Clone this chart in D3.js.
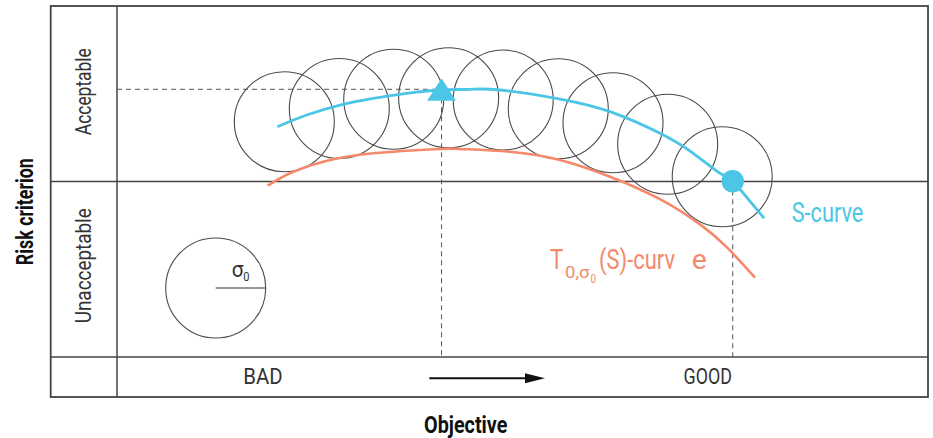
<!DOCTYPE html>
<html><head><meta charset="utf-8">
<script src="https://cdn.jsdelivr.net/npm/d3@7"></script>
<style>body{margin:0;background:#fff;} svg{display:block;}</style>
</head><body><svg id="c" width="933" height="438"></svg>
<script>
// ---------- data (abstract units: objective 0..100, risk criterion 0..100) ----------
const circleX = [20.63, 27.41, 34.12, 40.89, 47.62, 54.41, 61.16, 67.90, 74.63];
const circleY = [67.04, 70.80, 73.42, 73.87, 73.22, 70.74, 66.75, 60.60, 51.37];
const sCurveX = [19.77, 23.39, 27.50, 31.60, 35.72, 39.83, 43.53, 47.23, 54.62, 60.79, 66.95, 71.06, 74.35, 75.92, 79.78];
const sCurveY = [65.61, 68.95, 71.79, 73.70, 75.13, 76.07, 76.27, 76.07, 73.50, 69.89, 63.73, 58.03, 52.34, 50.06, 39.52];
const tCurveX = [18.58, 21.33, 25.44, 31.60, 39.83, 42.29, 48.46, 54.62, 60.79, 66.95, 71.89, 75.18, 78.67];
const tCurveY = [48.80, 52.34, 55.64, 58.03, 59.26, 59.26, 58.49, 56.13, 51.37, 44.96, 37.78, 31.31, 22.59];
const optimum = [40.02, 76.27];     // triangle marker
const boundary = [75.92, 50.06];    // dot marker
const threshold = 50;               // acceptable / unacceptable
const sigma0 = 6.165;               // circle radius (objective units)
const sigmaCircle = [12.17, 19.66];
const xLabels = ["BAD", "GOOD"];
const yLabels = ["Acceptable", "Unacceptable"];
const xTitle = "Objective";
const yTitle = "Risk criterion";

// ---------- layout ----------
const L = 117, R = 928, T = 6, B = 357, OL = 50.7, OB = 397;
const blue = "#4cc6e6", orange = "#f4896b", ink = "#444", thin = "#4a4a4a";
const svg = d3.select("#c");
svg.append("rect").attr("width", 933).attr("height", 438).attr("fill", "#fff");
const x = d3.scaleLinear([0, 100], [L, R]);
const y = d3.scaleLinear([0, 100], [B, T]);
const rPx = x(sigma0) - x(0);

// frame
const frame = svg.append("g").attr("stroke", ink).attr("fill", "none");
frame.append("rect").attr("x", OL).attr("y", T).attr("width", R - OL).attr("height", OB - T).attr("stroke-width", 1.8);
frame.append("line").attr("x1", L).attr("x2", L).attr("y1", T).attr("y2", OB).attr("stroke-width", 1.5);
frame.append("line").attr("x1", OL).attr("x2", R).attr("y1", y(threshold)).attr("y2", y(threshold)).attr("stroke-width", 1.5);
frame.append("line").attr("x1", OL).attr("x2", R).attr("y1", B).attr("y2", B).attr("stroke-width", 1.5);

// dashed guides
const dash = svg.append("g").attr("stroke", "#555").attr("stroke-width", 1).attr("stroke-dasharray", "5,4").attr("fill", "none");
dash.append("line").attr("x1", x(0)).attr("x2", x(optimum[0])).attr("y1", y(optimum[1])).attr("y2", y(optimum[1]));
dash.append("line").attr("x1", x(optimum[0])).attr("x2", x(optimum[0])).attr("y1", y(optimum[1])).attr("y2", y(0));
dash.append("line").attr("x1", x(boundary[0])).attr("x2", x(boundary[0])).attr("y1", y(boundary[1])).attr("y2", y(0));

// circles
svg.append("g").selectAll("circle").data(circleX.map((v, i) => [v, circleY[i]])).join("circle")
  .attr("cx", d => x(d[0])).attr("cy", d => y(d[1])).attr("r", rPx)
  .attr("fill", "none").attr("stroke", thin).attr("stroke-width", 1.1);

// curves
const line = d3.line().x(d => x(d[0])).y(d => y(d[1])).curve(d3.curveNatural);
svg.append("path").attr("d", line(tCurveX.map((v, i) => [v, tCurveY[i]])))
  .attr("fill", "none").attr("stroke", orange).attr("stroke-width", 2.6);
svg.append("path").attr("d", line(sCurveX.map((v, i) => [v, sCurveY[i]])))
  .attr("fill", "none").attr("stroke", blue).attr("stroke-width", 2.8);

// markers
const tx = x(optimum[0]), ty = y(optimum[1]);
svg.append("path").attr("d", `M${tx},${ty - 11}L${tx + 14.5},${ty + 11.4}L${tx - 14.5},${ty + 11.4}Z`).attr("fill", blue);
svg.append("circle").attr("cx", x(boundary[0])).attr("cy", y(boundary[1])).attr("r", 11.2).attr("fill", blue);

// sigma0 legend circle
const sx = x(sigmaCircle[0]), sy = y(sigmaCircle[1]);
svg.append("circle").attr("cx", sx).attr("cy", sy).attr("r", rPx).attr("fill", "none").attr("stroke", thin).attr("stroke-width", 1.1);
svg.append("line").attr("x1", sx).attr("x2", sx + rPx).attr("y1", sy).attr("y2", sy).attr("stroke", "#333").attr("stroke-width", 1.2);

// text helper
function txt(s, px, py, size, opts = {}) {
  const t = svg.append("text").attr("x", px).attr("y", py).text(s)
    .attr("font-family", "Roboto, 'Liberation Sans', sans-serif")
    .attr("font-size", size).attr("font-weight", opts.weight || 400)
    .attr("fill", opts.fill || "#222").attr("text-anchor", opts.anchor || "start");
  if (opts.len) t.attr("textLength", opts.len).attr("lengthAdjust", "spacingAndGlyphs");
  if (opts.rot) t.attr("transform", `rotate(-90 ${px} ${py})`);
  return t;
}

// sigma label
txt("σ", sx + 16, sy - 11.3, 22, { len: 11.7, fill: "#333" });
txt("0", sx + 27.6, sy - 7, 12, { len: 6.2, fill: "#333" });

// y category labels
txt(yLabels[0], 91, 91.7, 22.5, { anchor: "middle", rot: true, len: 87, fill: "#333" });
txt(yLabels[1], 91, 265.8, 22.5, { anchor: "middle", rot: true, len: 115, fill: "#333" });
// x category labels
txt(xLabels[0], 263, 384.3, 22.5, { anchor: "middle", len: 39.4, fill: "#333" });
txt(xLabels[1], x(boundary[0]) - 0.8, 384.3, 22.5, { anchor: "end", len: 48.4, fill: "#333" });

// arrow
svg.append("line").attr("x1", 429.3).attr("x2", 527).attr("y1", 378.3).attr("y2", 378.3).attr("stroke", "#111").attr("stroke-width", 2);
svg.append("path").attr("d", "M545,378.3L525,373.3L525,383.3Z").attr("fill", "#111");

// titles
txt(xTitle, 465.7, 433.3, 23.5, { anchor: "middle", weight: 700, len: 83.3, fill: "#111" });
txt(yTitle, 33, 211.7, 23.5, { anchor: "middle", weight: 700, rot: true, len: 107, fill: "#111" });

// curve labels
txt("S-curve", 791.7, 221.7, 27, { len: 71.7, fill: blue });
txt("T", 550, 269.3, 27, { len: 13.3, fill: orange });
txt("0,σ", 565, 278.3, 16, { len: 24.5, fill: orange });
txt("0", 590.5, 283.3, 12, { len: 5.5, fill: orange });
txt("(S)-curv", 599, 269.3, 27, { len: 76, fill: orange });
txt("e", 691.7, 269.3, 27, { len: 15, fill: orange });
</script></body></html>
